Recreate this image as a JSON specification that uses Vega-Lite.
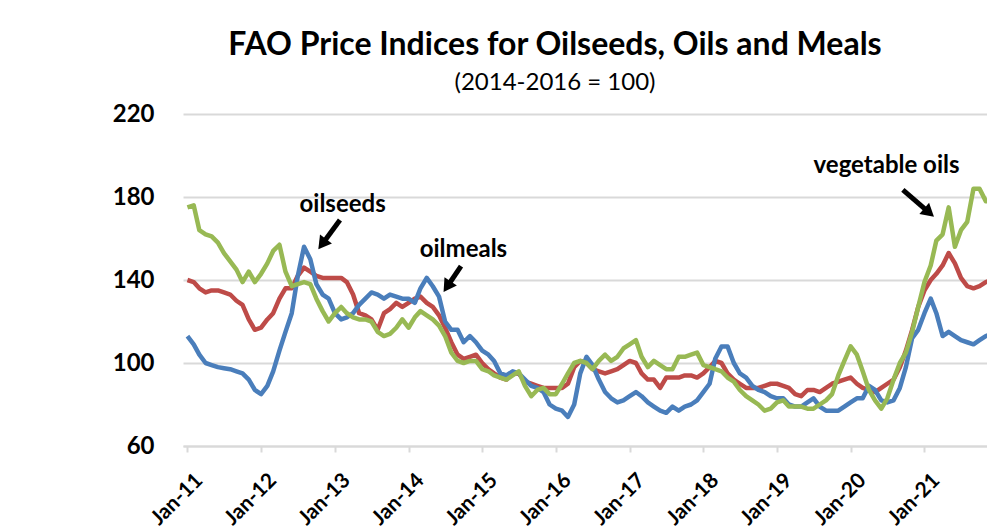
{
  "$schema": "https://vega.github.io/schema/vega-lite/v6.json",
  "autosize": {"type": "none"},
  "width": 804,
  "height": 332,
  "padding": {"left": 183, "top": 114, "right": 0, "bottom": 86},
  "background": "white",
  "config": {"view": {"stroke": null}, "font": "Lato"},
  "title": {
    "text": "FAO Price Indices for Oilseeds, Oils and Meals",
    "subtitle": "(2014-2016 = 100)",
    "font": "Lato",
    "fontSize": 32,
    "fontWeight": "bold",
    "color": "#000000",
    "subtitleFont": "Lato",
    "subtitleFontSize": 24,
    "subtitleFontWeight": "normal",
    "subtitleColor": "#000000",
    "subtitlePadding": 9,
    "anchor": "middle",
    "dx": -30,
    "offset": 6
  },
  "datasets": {
    "prices": [
      {"month": "2011-01-01", "oilseeds": 140, "oilmeals": 113, "vegoils": 175},
      {"month": "2011-02-01", "oilseeds": 139, "oilmeals": 109, "vegoils": 176},
      {"month": "2011-03-01", "oilseeds": 136, "oilmeals": 104, "vegoils": 164},
      {"month": "2011-04-01", "oilseeds": 134, "oilmeals": 100, "vegoils": 162},
      {"month": "2011-05-01", "oilseeds": 135, "oilmeals": 99, "vegoils": 161},
      {"month": "2011-06-01", "oilseeds": 135, "oilmeals": 98, "vegoils": 158},
      {"month": "2011-07-01", "oilseeds": 134, "oilmeals": 97.5, "vegoils": 153},
      {"month": "2011-08-01", "oilseeds": 133, "oilmeals": 97, "vegoils": 149},
      {"month": "2011-09-01", "oilseeds": 130, "oilmeals": 96, "vegoils": 145},
      {"month": "2011-10-01", "oilseeds": 128, "oilmeals": 95, "vegoils": 139},
      {"month": "2011-11-01", "oilseeds": 121, "oilmeals": 92, "vegoils": 144},
      {"month": "2011-12-01", "oilseeds": 116, "oilmeals": 87, "vegoils": 139},
      {"month": "2012-01-01", "oilseeds": 117, "oilmeals": 85, "vegoils": 143},
      {"month": "2012-02-01", "oilseeds": 121, "oilmeals": 89, "vegoils": 148},
      {"month": "2012-03-01", "oilseeds": 124, "oilmeals": 96, "vegoils": 154},
      {"month": "2012-04-01", "oilseeds": 131, "oilmeals": 106, "vegoils": 157},
      {"month": "2012-05-01", "oilseeds": 136, "oilmeals": 115, "vegoils": 144},
      {"month": "2012-06-01", "oilseeds": 136, "oilmeals": 124, "vegoils": 137},
      {"month": "2012-07-01", "oilseeds": 142, "oilmeals": 142, "vegoils": 138},
      {"month": "2012-08-01", "oilseeds": 146, "oilmeals": 156, "vegoils": 139},
      {"month": "2012-09-01", "oilseeds": 144, "oilmeals": 150, "vegoils": 138},
      {"month": "2012-10-01", "oilseeds": 142, "oilmeals": 138, "vegoils": 131},
      {"month": "2012-11-01", "oilseeds": 141, "oilmeals": 133, "vegoils": 125},
      {"month": "2012-12-01", "oilseeds": 141, "oilmeals": 131, "vegoils": 120},
      {"month": "2013-01-01", "oilseeds": 141, "oilmeals": 124, "vegoils": 124},
      {"month": "2013-02-01", "oilseeds": 141, "oilmeals": 121, "vegoils": 127},
      {"month": "2013-03-01", "oilseeds": 139, "oilmeals": 122, "vegoils": 124},
      {"month": "2013-04-01", "oilseeds": 133, "oilmeals": 124, "vegoils": 122},
      {"month": "2013-05-01", "oilseeds": 124, "oilmeals": 128, "vegoils": 121},
      {"month": "2013-06-01", "oilseeds": 123, "oilmeals": 131, "vegoils": 121},
      {"month": "2013-07-01", "oilseeds": 121, "oilmeals": 134, "vegoils": 120},
      {"month": "2013-08-01", "oilseeds": 116, "oilmeals": 133, "vegoils": 115},
      {"month": "2013-09-01", "oilseeds": 124, "oilmeals": 131, "vegoils": 113},
      {"month": "2013-10-01", "oilseeds": 126, "oilmeals": 133, "vegoils": 114},
      {"month": "2013-11-01", "oilseeds": 129, "oilmeals": 132, "vegoils": 117},
      {"month": "2013-12-01", "oilseeds": 127, "oilmeals": 131, "vegoils": 121},
      {"month": "2014-01-01", "oilseeds": 129, "oilmeals": 131, "vegoils": 117},
      {"month": "2014-02-01", "oilseeds": 131, "oilmeals": 129, "vegoils": 122},
      {"month": "2014-03-01", "oilseeds": 132, "oilmeals": 136, "vegoils": 125},
      {"month": "2014-04-01", "oilseeds": 129, "oilmeals": 141, "vegoils": 123},
      {"month": "2014-05-01", "oilseeds": 127, "oilmeals": 137, "vegoils": 121},
      {"month": "2014-06-01", "oilseeds": 123, "oilmeals": 132, "vegoils": 118},
      {"month": "2014-07-01", "oilseeds": 117, "oilmeals": 120, "vegoils": 113},
      {"month": "2014-08-01", "oilseeds": 110, "oilmeals": 116, "vegoils": 105},
      {"month": "2014-09-01", "oilseeds": 104, "oilmeals": 116, "vegoils": 101},
      {"month": "2014-10-01", "oilseeds": 102, "oilmeals": 110, "vegoils": 100},
      {"month": "2014-11-01", "oilseeds": 103, "oilmeals": 113, "vegoils": 101},
      {"month": "2014-12-01", "oilseeds": 104, "oilmeals": 110, "vegoils": 101},
      {"month": "2015-01-01", "oilseeds": 100, "oilmeals": 106, "vegoils": 97},
      {"month": "2015-02-01", "oilseeds": 97, "oilmeals": 104, "vegoils": 96},
      {"month": "2015-03-01", "oilseeds": 95, "oilmeals": 101, "vegoils": 94},
      {"month": "2015-04-01", "oilseeds": 93, "oilmeals": 95, "vegoils": 93},
      {"month": "2015-05-01", "oilseeds": 92, "oilmeals": 94, "vegoils": 92},
      {"month": "2015-06-01", "oilseeds": 95, "oilmeals": 96, "vegoils": 94},
      {"month": "2015-07-01", "oilseeds": 95, "oilmeals": 95, "vegoils": 96},
      {"month": "2015-08-01", "oilseeds": 91, "oilmeals": 92, "vegoils": 89},
      {"month": "2015-09-01", "oilseeds": 90, "oilmeals": 89, "vegoils": 84},
      {"month": "2015-10-01", "oilseeds": 89, "oilmeals": 88, "vegoils": 87},
      {"month": "2015-11-01", "oilseeds": 88, "oilmeals": 86, "vegoils": 88},
      {"month": "2015-12-01", "oilseeds": 88, "oilmeals": 80, "vegoils": 85},
      {"month": "2016-01-01", "oilseeds": 88, "oilmeals": 78, "vegoils": 85},
      {"month": "2016-02-01", "oilseeds": 88, "oilmeals": 77, "vegoils": 90},
      {"month": "2016-03-01", "oilseeds": 90, "oilmeals": 74, "vegoils": 95},
      {"month": "2016-04-01", "oilseeds": 98, "oilmeals": 80, "vegoils": 100},
      {"month": "2016-05-01", "oilseeds": 101, "oilmeals": 95, "vegoils": 101},
      {"month": "2016-06-01", "oilseeds": 100, "oilmeals": 103, "vegoils": 100},
      {"month": "2016-07-01", "oilseeds": 97, "oilmeals": 99, "vegoils": 97},
      {"month": "2016-08-01", "oilseeds": 96, "oilmeals": 92, "vegoils": 101},
      {"month": "2016-09-01", "oilseeds": 95, "oilmeals": 86, "vegoils": 104},
      {"month": "2016-10-01", "oilseeds": 96, "oilmeals": 83, "vegoils": 101},
      {"month": "2016-11-01", "oilseeds": 97, "oilmeals": 81, "vegoils": 103},
      {"month": "2016-12-01", "oilseeds": 99, "oilmeals": 82, "vegoils": 107},
      {"month": "2017-01-01", "oilseeds": 101, "oilmeals": 84, "vegoils": 109},
      {"month": "2017-02-01", "oilseeds": 100, "oilmeals": 86, "vegoils": 111},
      {"month": "2017-03-01", "oilseeds": 95, "oilmeals": 84, "vegoils": 103},
      {"month": "2017-04-01", "oilseeds": 92, "oilmeals": 81, "vegoils": 98},
      {"month": "2017-05-01", "oilseeds": 92, "oilmeals": 79, "vegoils": 101},
      {"month": "2017-06-01", "oilseeds": 88, "oilmeals": 77, "vegoils": 99},
      {"month": "2017-07-01", "oilseeds": 93, "oilmeals": 76, "vegoils": 97},
      {"month": "2017-08-01", "oilseeds": 93, "oilmeals": 79, "vegoils": 97},
      {"month": "2017-09-01", "oilseeds": 93, "oilmeals": 77, "vegoils": 103},
      {"month": "2017-10-01", "oilseeds": 94, "oilmeals": 79, "vegoils": 103},
      {"month": "2017-11-01", "oilseeds": 94, "oilmeals": 80, "vegoils": 104},
      {"month": "2017-12-01", "oilseeds": 93, "oilmeals": 82, "vegoils": 105},
      {"month": "2018-01-01", "oilseeds": 95, "oilmeals": 86, "vegoils": 99},
      {"month": "2018-02-01", "oilseeds": 98, "oilmeals": 90, "vegoils": 98},
      {"month": "2018-03-01", "oilseeds": 101, "oilmeals": 102, "vegoils": 97},
      {"month": "2018-04-01", "oilseeds": 100, "oilmeals": 108, "vegoils": 96},
      {"month": "2018-05-01", "oilseeds": 95, "oilmeals": 108, "vegoils": 93},
      {"month": "2018-06-01", "oilseeds": 92, "oilmeals": 100, "vegoils": 91},
      {"month": "2018-07-01", "oilseeds": 90, "oilmeals": 95, "vegoils": 87},
      {"month": "2018-08-01", "oilseeds": 88, "oilmeals": 93, "vegoils": 84},
      {"month": "2018-09-01", "oilseeds": 88, "oilmeals": 89, "vegoils": 82},
      {"month": "2018-10-01", "oilseeds": 88, "oilmeals": 87, "vegoils": 80},
      {"month": "2018-11-01", "oilseeds": 89, "oilmeals": 86, "vegoils": 77},
      {"month": "2018-12-01", "oilseeds": 90, "oilmeals": 84, "vegoils": 78},
      {"month": "2019-01-01", "oilseeds": 90, "oilmeals": 83, "vegoils": 81},
      {"month": "2019-02-01", "oilseeds": 89, "oilmeals": 83, "vegoils": 82},
      {"month": "2019-03-01", "oilseeds": 88, "oilmeals": 80, "vegoils": 79},
      {"month": "2019-04-01", "oilseeds": 85, "oilmeals": 79, "vegoils": 79},
      {"month": "2019-05-01", "oilseeds": 84, "oilmeals": 79, "vegoils": 79},
      {"month": "2019-06-01", "oilseeds": 87, "oilmeals": 81, "vegoils": 78},
      {"month": "2019-07-01", "oilseeds": 87, "oilmeals": 83, "vegoils": 78},
      {"month": "2019-08-01", "oilseeds": 86, "oilmeals": 79, "vegoils": 80},
      {"month": "2019-09-01", "oilseeds": 88, "oilmeals": 77, "vegoils": 82},
      {"month": "2019-10-01", "oilseeds": 90, "oilmeals": 77, "vegoils": 85},
      {"month": "2019-11-01", "oilseeds": 91, "oilmeals": 77, "vegoils": 94},
      {"month": "2019-12-01", "oilseeds": 92, "oilmeals": 79, "vegoils": 101},
      {"month": "2020-01-01", "oilseeds": 93, "oilmeals": 81, "vegoils": 108},
      {"month": "2020-02-01", "oilseeds": 90, "oilmeals": 83, "vegoils": 104},
      {"month": "2020-03-01", "oilseeds": 88, "oilmeals": 83, "vegoils": 96},
      {"month": "2020-04-01", "oilseeds": 87, "oilmeals": 89, "vegoils": 87},
      {"month": "2020-05-01", "oilseeds": 86, "oilmeals": 87, "vegoils": 82},
      {"month": "2020-06-01", "oilseeds": 88, "oilmeals": 82, "vegoils": 78},
      {"month": "2020-07-01", "oilseeds": 90, "oilmeals": 81, "vegoils": 83},
      {"month": "2020-08-01", "oilseeds": 92, "oilmeals": 82, "vegoils": 92},
      {"month": "2020-09-01", "oilseeds": 98, "oilmeals": 88, "vegoils": 100},
      {"month": "2020-10-01", "oilseeds": 106, "oilmeals": 98, "vegoils": 105},
      {"month": "2020-11-01", "oilseeds": 116, "oilmeals": 112, "vegoils": 115},
      {"month": "2020-12-01", "oilseeds": 127, "oilmeals": 116, "vegoils": 127},
      {"month": "2021-01-01", "oilseeds": 135, "oilmeals": 124, "vegoils": 139},
      {"month": "2021-02-01", "oilseeds": 140, "oilmeals": 131, "vegoils": 147},
      {"month": "2021-03-01", "oilseeds": 143, "oilmeals": 124, "vegoils": 159},
      {"month": "2021-04-01", "oilseeds": 147, "oilmeals": 113, "vegoils": 162},
      {"month": "2021-05-01", "oilseeds": 153, "oilmeals": 115, "vegoils": 175},
      {"month": "2021-06-01", "oilseeds": 148, "oilmeals": 113, "vegoils": 156},
      {"month": "2021-07-01", "oilseeds": 141, "oilmeals": 111, "vegoils": 164},
      {"month": "2021-08-01", "oilseeds": 137, "oilmeals": 110, "vegoils": 168},
      {"month": "2021-09-01", "oilseeds": 136, "oilmeals": 109, "vegoils": 184},
      {"month": "2021-10-01", "oilseeds": 137, "oilmeals": 111, "vegoils": 184},
      {"month": "2021-11-01", "oilseeds": 139, "oilmeals": 113, "vegoils": 178},
      {"month": "2021-12-01", "oilseeds": 140, "oilmeals": 114, "vegoils": 178}
    ],
    "notes": [
      {"label": "oilseeds", "month": "2013-02-08", "value": 172.8},
      {"label": "oilmeals", "month": "2014-09-30", "value": 151.1},
      {"label": "vegetable oils", "month": "2020-06-27", "value": 191.6}
    ],
    "arrows": [
      {"label": "oilseeds", "month": "2013-01-26", "value": 168.9, "month2": "2012-11-05", "value2": 158.1},
      {"label": "oilmeals", "month": "2014-09-18", "value": 146.7, "month2": "2014-07-17", "value2": 137.6},
      {"label": "vegetable oils", "month": "2020-09-16", "value": 183.4, "month2": "2021-01-16", "value2": 173.2}
    ]
  },
  "encoding": {
    "x": {
      "field": "month",
      "type": "temporal",
      "title": null,
      "scale": {
        "type": "utc",
        "domain": [
          {"year": 2010, "month": 12, "date": 10, "utc": true},
          {"year": 2021, "month": 11, "date": 7, "utc": true}
        ]
      },
      "axis": {
        "values": [
          {"year": 2011, "month": 1, "date": 1, "utc": true},
          {"year": 2012, "month": 1, "date": 1, "utc": true},
          {"year": 2013, "month": 1, "date": 1, "utc": true},
          {"year": 2014, "month": 1, "date": 1, "utc": true},
          {"year": 2015, "month": 1, "date": 1, "utc": true},
          {"year": 2016, "month": 1, "date": 1, "utc": true},
          {"year": 2017, "month": 1, "date": 1, "utc": true},
          {"year": 2018, "month": 1, "date": 1, "utc": true},
          {"year": 2019, "month": 1, "date": 1, "utc": true},
          {"year": 2020, "month": 1, "date": 1, "utc": true},
          {"year": 2021, "month": 1, "date": 1, "utc": true}
        ],
        "format": "%b-%y",
        "labelAngle": -45,
        "labelFont": "Lato",
        "labelFontSize": 21,
        "labelFontWeight": "bold",
        "labelColor": "#000000",
        "labelPadding": 17,
        "labelOffset": 4,
        "labelOverlap": false,
        "labelFlush": false,
        "grid": false,
        "domainColor": "#d9d9d9",
        "domainWidth": 2,
        "tickColor": "#d9d9d9",
        "tickWidth": 2,
        "tickSize": 6
      }
    },
    "y": {
      "field": "value",
      "type": "quantitative",
      "title": null,
      "scale": {"domain": [60, 220], "nice": false, "zero": false},
      "axis": {
        "values": [60, 100, 140, 180, 220],
        "labelFont": "Lato",
        "labelFontSize": 24,
        "labelFontWeight": "bold",
        "labelColor": "#000000",
        "labelPadding": 29,
        "ticks": false,
        "domain": false,
        "grid": true,
        "gridColor": "#d9d9d9",
        "gridWidth": 2
      }
    }
  },
  "layer": [
    {
      "data": {"name": "prices"},
      "transform": [
        {"fold": ["oilseeds", "oilmeals", "vegoils"], "as": ["series", "value"]}
      ],
      "mark": {"type": "line", "strokeWidth": 4.5, "clip": true, "strokeJoin": "round"},
      "encoding": {
        "color": {
          "field": "series",
          "type": "nominal",
          "legend": null,
          "scale": {
            "domain": ["oilseeds", "oilmeals", "vegoils"],
            "range": ["#BE4B48", "#4A7EBB", "#98B954"]
          }
        }
      }
    },
    {
      "data": {"name": "arrows"},
      "mark": {"type": "rule", "color": "#000000", "strokeWidth": 5},
      "encoding": {
        "x2": {"field": "month2"},
        "y2": {"field": "value2"}
      }
    },
    {
      "data": {"name": "arrows"},
      "transform": [{"filter": "datum.label === 'oilseeds'"}],
      "mark": {"type": "point", "shape": "triangle", "filled": true, "color": "#000000", "opacity": 1, "size": 220, "angle": 216.5},
      "encoding": {"x": {"field": "month2", "type": "temporal"}, "y": {"field": "value2", "type": "quantitative"}}
    },
    {
      "data": {"name": "arrows"},
      "transform": [{"filter": "datum.label === 'oilmeals'"}],
      "mark": {"type": "point", "shape": "triangle", "filled": true, "color": "#000000", "opacity": 1, "size": 220, "angle": 213.7},
      "encoding": {"x": {"field": "month2", "type": "temporal"}, "y": {"field": "value2", "type": "quantitative"}}
    },
    {
      "data": {"name": "arrows"},
      "transform": [{"filter": "datum.label === 'vegetable oils'"}],
      "mark": {"type": "point", "shape": "triangle", "filled": true, "color": "#000000", "opacity": 1, "size": 220, "angle": 130.8},
      "encoding": {"x": {"field": "month2", "type": "temporal"}, "y": {"field": "value2", "type": "quantitative"}}
    },
    {
      "data": {"name": "notes"},
      "mark": {"type": "text", "font": "Lato", "fontSize": 24, "fontWeight": "bold", "color": "#000000", "align": "center", "baseline": "alphabetic"},
      "encoding": {"text": {"field": "label"}}
    }
  ]
}
